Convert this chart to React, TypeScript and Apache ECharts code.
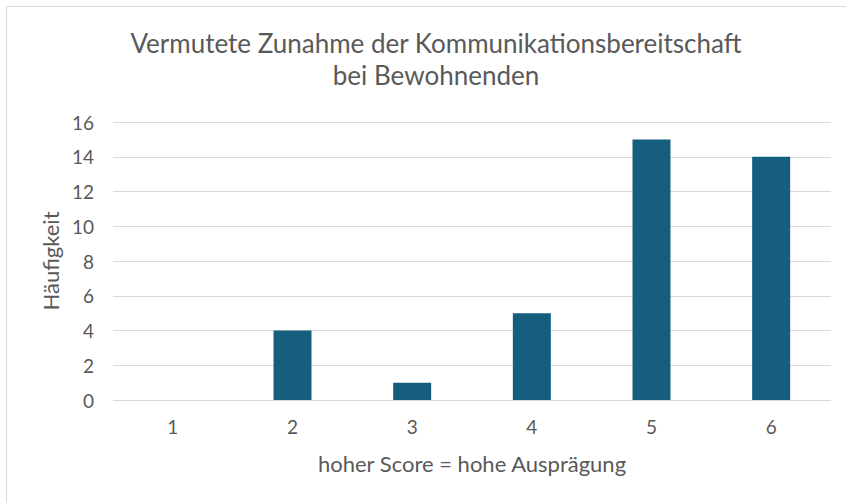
import React, { useEffect, useRef } from "react";
import * as echarts from "echarts";

const titleLines = ["Vermutete Zunahme der Kommunikationsbereitschaft", "bei Bewohnenden"];
const categories = ["1", "2", "3", "4", "5", "6"];
const values = [0, 4, 1, 5, 15, 14];
const yTicks = { min: 0, max: 16, interval: 2 };
const xAxisName = "hoher Score = hohe Ausprägung";
const yAxisName = "Häufigkeit";

const FONT = "Lato, 'Open Sans', sans-serif";
const TEXT = "#595959";

export default function App() {
  const ref = useRef<HTMLDivElement>(null);
  useEffect(() => {
    if (!ref.current) return;
    const chart = echarts.init(ref.current, null, { renderer: "svg" });
    chart.setOption({
      animation: false,
      backgroundColor: "#ffffff",
      textStyle: { fontFamily: FONT },
      title: {
        text: titleLines.join("\n"),
        left: 431,
        top: 22,
        textAlign: "center",
        textStyle: { fontFamily: FONT, fontSize: 26, fontWeight: "normal", color: TEXT, lineHeight: 32 },
      },
      graphic: [
        {
          type: "rect",
          shape: { x: 6.5, y: 6.5, width: 900, height: 600 },
          style: { fill: "none", stroke: "#d9d9d9", lineWidth: 1 },
          silent: true,
        },
      ],
      grid: { left: 113, right: 15, top: 122, bottom: 103, containLabel: false },
      xAxis: {
        type: "category",
        data: categories,
        axisLine: { show: false },
        axisTick: { show: false },
        axisLabel: { color: TEXT, fontSize: 19, margin: 17, fontFamily: FONT },
        name: xAxisName,
        nameLocation: "middle",
        nameGap: 52,
        nameTextStyle: { color: TEXT, fontSize: 22, fontFamily: FONT },
      },
      yAxis: {
        type: "value",
        min: yTicks.min,
        max: yTicks.max,
        interval: yTicks.interval,
        axisLine: { show: false },
        axisTick: { show: false },
        axisLabel: { color: TEXT, fontSize: 19, margin: 19, fontFamily: FONT },
        splitLine: { lineStyle: { color: "#d9d9d9", width: 1 } },
        name: yAxisName,
        nameLocation: "middle",
        nameGap: 52,
        nameRotate: 90,
        nameTextStyle: { color: TEXT, fontSize: 22, fontFamily: FONT },
      },
      series: [
        {
          type: "bar",
          data: values,
          barWidth: 38,
          itemStyle: { color: "#165e7e" },
        },
      ],
    });
    return () => chart.dispose();
  }, []);
  return (
    <div
      ref={ref}
      style={{ position: "absolute", left: 0, top: 0, width: 846, height: 503 }}
    />
  );
}
